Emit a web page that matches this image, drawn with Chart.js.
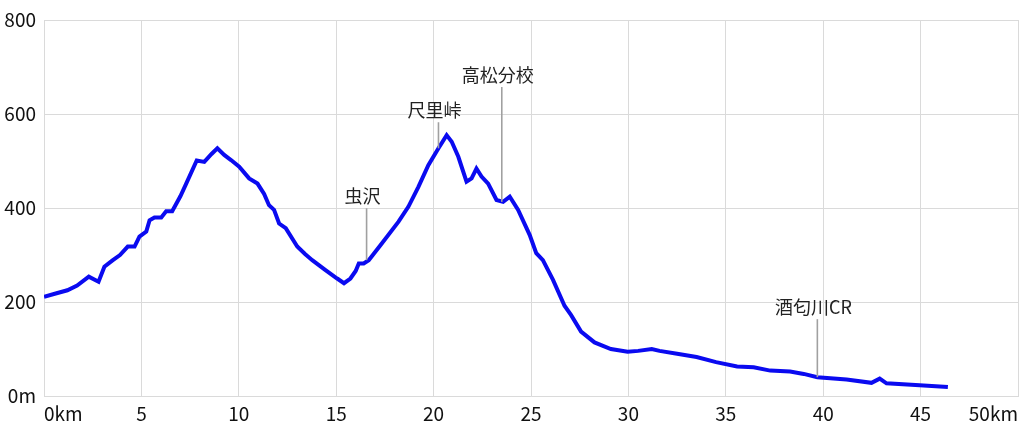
<!DOCTYPE html>
<html>
<head>
<meta charset="utf-8">
<script src="https://cdn.jsdelivr.net/npm/chart.js@4"></script>
<style>
    html, body { margin: 0; padding: 0; background: #fff; }
    #wrap { width: 1024px; height: 430px; }
</style>
</head>
<body>
<div id="wrap"><canvas id="profileChart" width="1024" height="430"></canvas></div>
<script>
// distance along the route (km) and elevation (m)
const distKm = [0, 0.6, 1.2, 1.7, 2.3, 2.8, 3.1, 3.5, 3.9, 4.3, 4.65, 4.9, 5.25, 5.42, 5.67, 6.02, 6.27, 6.58, 7.0, 7.3,
    7.84, 8.23, 8.6, 8.9, 9.25, 9.6, 10.02, 10.53, 10.96, 11.3, 11.55, 11.81, 12.07, 12.41, 13.0, 13.4, 13.77, 14.45, 15.05, 15.4,
    15.73, 16.0, 16.16, 16.41, 16.67, 17.35, 18.2, 18.71, 19.22, 19.73, 20.25, 20.67, 20.93, 21.27, 21.69, 21.95, 22.2, 22.46, 22.8, 23.23,
    23.57, 23.91, 24.34, 24.93, 25.27, 25.61, 26.13, 26.72, 27.06, 27.57, 28.26, 29.1, 29.96, 30.5, 31.2, 31.6, 32.5, 33.5, 34.5, 35.58,
    36.43, 37.28, 38.3, 39.0, 39.7, 41.2, 42.48, 42.9, 43.25, 44.95, 46.4];
const elevM = [211, 218, 225, 235, 254, 243, 275, 288, 300, 318, 318, 339, 350, 374, 380, 380, 393, 393, 425, 452,
    501, 498, 515, 527, 513, 502, 488, 463, 452, 430, 406, 396, 367, 357, 318, 302, 289, 268, 250, 240,
    250, 266, 282, 282, 289, 325, 371, 403, 445, 491, 527, 555, 541, 509, 456, 463, 484, 467, 452, 417,
    413, 424, 396, 343, 304, 289, 247, 192, 172, 137, 114, 100, 94, 96, 100, 96, 90, 83, 72, 63,
    61, 54, 52, 47, 40, 35, 28, 37, 27, 23, 19];

// place marks
const markNames = ["虫沢", "尺里峠", "高松分校", "酒匂川CR"];
const markKm = [16.56, 20.25, 23.5, 39.7];
const markElev = [289, 527, 413, 40];
const markLabelElev = [425, 608, 683, 189];

const xTicks = [0, 5, 10, 15, 20, 25, 30, 35, 40, 45, 50];
const yTicks = [0, 200, 400, 600, 800];

const FONT = '"Noto Sans CJK JP", "Liberation Sans", sans-serif';

const markPlugin = {
    id: "placeMarks",
    afterDatasetsDraw(chart) {
        const ctx = chart.ctx;
        const xs = chart.scales.x, ys = chart.scales.y;
        ctx.save();
        for (let i = 0; i < markNames.length; i++) {
            let px = xs.getPixelForValue(markKm[i]);
            let pyLabel = ys.getPixelForValue(markLabelElev[i]);
            let pyPoint = ys.getPixelForValue(markElev[i]);
            ctx.strokeStyle = "#a0a0a0";
            ctx.lineWidth = 1.6;
            ctx.beginPath();
            ctx.moveTo(px, pyLabel + 12);
            ctx.lineTo(px, pyPoint);
            ctx.stroke();
            ctx.fillStyle = "#222";
            ctx.font = "18px " + FONT;
            ctx.textAlign = "center";
            ctx.textBaseline = "middle";
            ctx.fillText(markNames[i], px - 4, pyLabel);
        }
        ctx.restore();
    }
};

document.addEventListener("DOMContentLoaded", () => {
    let canvas = document.getElementById("profileChart");
    initProfile(canvas);
});

function initProfile(canvas) {
    let points = distKm.map((d, i) => ({ x: d, y: elevM[i] }));

    new Chart(canvas, {
        type: "line",
        data: {
            datasets: [{
                data: points,
                borderColor: "rgb(10,10,240)",
                borderWidth: 4,
                pointRadius: 0,
                fill: false,
                tension: 0
            }]
        },
        options: {
            responsive: false,
            animation: false,
            layout: { padding: { top: 20, right: 3, left: 0, bottom: 0 } },
            plugins: {
                legend: { display: false },
                tooltip: { enabled: false }
            },
            scales: {
                x: {
                    type: "linear",
                    min: 0,
                    max: 50,
                    afterBuildTicks: (axis) => { axis.ticks = xTicks.map(v => ({ value: v })); },
                    afterFit: (axis) => { axis.height = 34; },
                    grid: { color: "#dadada", lineWidth: 1, drawTicks: false },
                    border: { color: "#dadada" },
                    ticks: {
                        align: "inner",
                        padding: 6,
                        maxRotation: 0,
                        color: "#111",
                        font: { size: 19, family: FONT },
                        callback: (v) => (v === 0 || v === 50) ? v + "km" : String(v)
                    }
                },
                y: {
                    min: 0,
                    max: 800,
                    afterBuildTicks: (axis) => { axis.ticks = yTicks.map(v => ({ value: v })); },
                    afterFit: (axis) => { axis.width = 44; },
                    grid: { color: "#dadada", lineWidth: 1, drawTicks: false },
                    border: { color: "#dadada" },
                    ticks: {
                        padding: 8,
                        color: "#111",
                        font: { size: 19, family: FONT },
                        callback: (v) => v === 0 ? "0m" : String(v)
                    }
                }
            }
        },
        plugins: [markPlugin]
    });
}
</script>
</body>
</html>
